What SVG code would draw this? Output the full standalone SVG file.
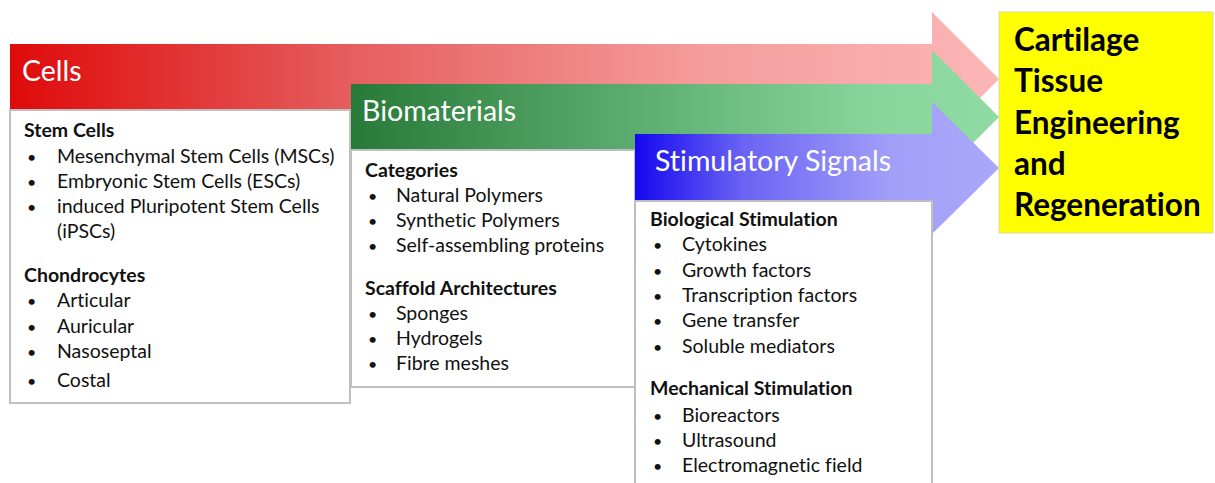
<svg xmlns="http://www.w3.org/2000/svg" width="1215" height="483" viewBox="0 0 1215 483">
<defs>
<linearGradient id="gRed" gradientUnits="userSpaceOnUse" x1="10" y1="0" x2="999" y2="0">
<stop offset="0" stop-color="#DF0A0A"/><stop offset="0.35" stop-color="#E65F5F"/><stop offset="0.7" stop-color="#F59C9C"/><stop offset="1" stop-color="#FCB6B6"/>
</linearGradient>
<linearGradient id="gGreen" gradientUnits="userSpaceOnUse" x1="351" y1="0" x2="999" y2="0">
<stop offset="0" stop-color="#287A38"/><stop offset="0.45" stop-color="#5EAE72"/><stop offset="0.8" stop-color="#88D59C"/><stop offset="1" stop-color="#8FDBA3"/>
</linearGradient>
<linearGradient id="gBlue" gradientUnits="userSpaceOnUse" x1="635" y1="0" x2="999" y2="0">
<stop offset="0" stop-color="#1508F0"/><stop offset="0.3" stop-color="#6B64F4"/><stop offset="0.7" stop-color="#A19EF8"/><stop offset="1" stop-color="#AAA8FA"/>
</linearGradient>
</defs>
<style>
text{font-family:Lato,"Liberation Sans",sans-serif;font-variant-ligatures:none;font-feature-settings:"liga" 0,"clig" 0}
.box{fill:#ffffff;stroke:#bfbfbf;stroke-width:2}
.hdr{font-size:28.5px;fill:#ffffff}
.t{font-size:19.5px;fill:#111111}
.d{font-size:16px;fill:#111111}
.b{font-size:19.5px;font-weight:bold;fill:#111111}
.goal{font-size:31.5px;font-weight:bold;fill:#000000}
</style>
<rect width="1215" height="483" fill="#ffffff"/>

<g id="connectors">
<path d="M10,44 H932 V12 L999,79 L932,146 V110 H10 Z" fill="url(#gRed)"/>
</g>

<g id="node-cells">
<rect class="box" x="10" y="110" width="340" height="293"/>
<text class="hdr" x="22" y="81">Cells</text>
<text class="b" x="24" y="137">Stem Cells</text>
<text class="d" x="27" y="163">•</text><text class="t" x="57" y="163">Mesenchymal Stem Cells (MSCs)</text>
<text class="d" x="27" y="188">•</text><text class="t" x="57" y="188">Embryonic Stem Cells (ESCs)</text>
<text class="d" x="27" y="213">•</text><text class="t" x="57" y="213">induced Pluripotent Stem Cells</text>
<text class="t" x="57" y="238">(iPSCs)</text>
<text class="b" x="24" y="282">Chondrocytes</text>
<text class="d" x="27" y="307">•</text><text class="t" x="57" y="307">Articular</text>
<text class="d" x="27" y="333">•</text><text class="t" x="57" y="333">Auricular</text>
<text class="d" x="27" y="358">•</text><text class="t" x="57" y="358">Nasoseptal</text>
<text class="d" x="27" y="387">•</text><text class="t" x="57" y="387">Costal</text>
</g>

<g id="node-biomaterials">
<path d="M351,84 H932 V50 L999,117 L932,184 V150 H351 Z" fill="url(#gGreen)"/>
<rect class="box" x="351" y="150" width="284" height="237"/>
<text class="hdr" x="362" y="121">Biomaterials</text>
<text class="b" x="365" y="177">Categories</text>
<text class="d" x="368" y="202">•</text><text class="t" x="396" y="202">Natural Polymers</text>
<text class="d" x="368" y="227">•</text><text class="t" x="396" y="227">Synthetic Polymers</text>
<text class="d" x="368" y="252">•</text><text class="t" x="396" y="252">Self-assembling proteins</text>
<text class="b" x="365" y="295">Scaffold Architectures</text>
<text class="d" x="368" y="320">•</text><text class="t" x="396" y="320">Sponges</text>
<text class="d" x="368" y="345">•</text><text class="t" x="396" y="345">Hydrogels</text>
<text class="d" x="368" y="370">•</text><text class="t" x="396" y="370">Fibre meshes</text>
</g>

<g id="node-stimulatory">
<path d="M635,134 H932 V102 L999,168 L932,234 V201 H635 Z" fill="url(#gBlue)"/>
<rect class="box" x="635" y="201" width="297" height="300"/>
<text class="hdr" x="655" y="171">Stimulatory Signals</text>
<text class="b" x="650" y="226">Biological Stimulation</text>
<text class="d" x="653" y="251">•</text><text class="t" x="682" y="251">Cytokines</text>
<text class="d" x="653" y="277">•</text><text class="t" x="682" y="277">Growth factors</text>
<text class="d" x="653" y="302">•</text><text class="t" x="682" y="302">Transcription factors</text>
<text class="d" x="653" y="327">•</text><text class="t" x="682" y="327">Gene transfer</text>
<text class="d" x="653" y="353">•</text><text class="t" x="682" y="353">Soluble mediators</text>
<text class="b" x="650" y="395">Mechanical Stimulation</text>
<text class="d" x="653" y="422">•</text><text class="t" x="682" y="422">Bioreactors</text>
<text class="d" x="653" y="447">•</text><text class="t" x="682" y="447">Ultrasound</text>
<text class="d" x="653" y="472">•</text><text class="t" x="682" y="472">Electromagnetic field</text>
</g>

<g id="node-goal">
<rect x="999" y="12" width="214" height="221" fill="#FFFF00" stroke="#d9d9a0" stroke-width="1"/>
<text class="goal" x="1014" y="51">Cartilage</text>
<text class="goal" x="1014" y="92">Tissue</text>
<text class="goal" x="1014" y="134">Engineering</text>
<text class="goal" x="1014" y="175">and</text>
<text class="goal" x="1014" y="216">Regeneration</text>
</g>
</svg>
